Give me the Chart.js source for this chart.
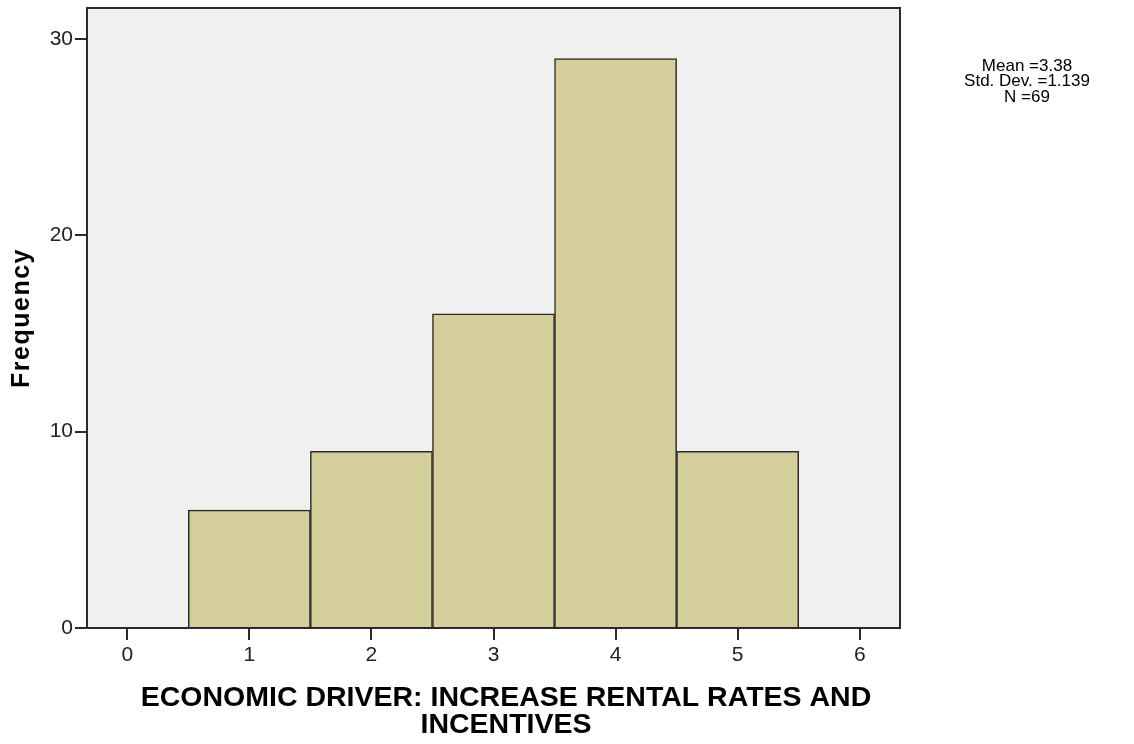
<!DOCTYPE html>
<html>
<head>
<meta charset="utf-8">
<script src="https://cdn.jsdelivr.net/npm/chart.js@4/dist/chart.umd.min.js"></script>
<style>
  html, body { margin: 0; padding: 0; background: #fff; }
  #wrap { width: 1134px; height: 744px; position: relative; }
</style>
</head>
<body>
<div id="wrap"><canvas id="hist"></canvas></div>
<script>
// histogram bins (value -> count)
const binCenters = [1, 2, 3, 4, 5];
const frequencies = [6, 9, 16, 29, 9];
const xTickValues = [0, 1, 2, 3, 4, 5, 6];
const yTickValues = [0, 10, 20, 30];
const statLines = ['Mean =3.38', 'Std. Dev. =1.139', 'N =69'];
const xTitle = ['ECONOMIC DRIVER: INCREASE RENTAL RATES AND', 'INCENTIVES'];
const yTitle = 'Frequency';

const FONT = '"Liberation Sans", Arial, sans-serif';
const INK = '#2b2b2b';

// grey plot background, frame, axis titles and the stats block
const decor = {
  id: 'decor',
  beforeDraw(chart) {
    const a = chart.chartArea, ctx = chart.ctx;
    ctx.save();
    ctx.fillStyle = '#f0f0f0';
    ctx.fillRect(a.left, a.top, a.right - a.left, a.bottom - a.top);
    ctx.restore();
  },
  afterDraw(chart) {
    const a = chart.chartArea, ctx = chart.ctx;
    ctx.save();
    ctx.strokeStyle = INK;
    ctx.lineWidth = 2;
    ctx.strokeRect(a.left, a.top, a.right - a.left, a.bottom - a.top);

    ctx.fillStyle = '#000';
    ctx.textAlign = 'center';
    ctx.textBaseline = 'middle';

    ctx.font = 'bold 28.5px ' + FONT;
    xTitle.forEach(function (s, i) {
      ctx.fillText(s, 506, 698 + i * 27.5);
    });

    ctx.save();
    ctx.translate(22, 318);
    ctx.rotate(-Math.PI / 2);
    ctx.font = 'bold 25px ' + FONT;
    ctx.letterSpacing = '1.5px';
    ctx.fillText(yTitle, 0, 0);
    ctx.restore();

    ctx.font = '17px ' + FONT;
    statLines.forEach(function (s, i) {
      ctx.fillText(s, 1027, 66 + i * 15.5);
    });
    ctx.restore();
  }
};

const ctx = document.getElementById('hist').getContext('2d');
new Chart(ctx, {
  type: 'bar',
  data: {
    datasets: [{
      data: binCenters.map(function (x, i) { return { x: x, y: frequencies[i] }; }),
      backgroundColor: '#d3ce9a',
      borderColor: INK,
      borderWidth: 1.5,
      barPercentage: 1,
      categoryPercentage: 1
    }]
  },
  options: {
    responsive: true,
    maintainAspectRatio: false,
    animation: false,
    layout: { padding: { top: 8, right: 234, left: 0, bottom: 0 } },
    plugins: { legend: { display: false }, tooltip: { enabled: false } },
    scales: {
      x: {
        type: 'linear',
        offset: false,
        min: -0.33,
        max: 6.33,
        afterBuildTicks: function (s) { s.ticks = xTickValues.map(function (v) { return { value: v }; }); },
        afterFit: function (s) { s.height = 116; s.paddingLeft = 0; s.paddingRight = 0; },
        grid: { offset: false, drawOnChartArea: false, drawTicks: true, tickLength: 12, color: INK, lineWidth: 2 },
        border: { display: true, color: INK, width: 2 },
        ticks: { color: '#222', font: { family: FONT, size: 21 }, padding: 3, maxRotation: 0 }
      },
      y: {
        min: 0,
        max: 31.58,
        afterBuildTicks: function (s) { s.ticks = yTickValues.map(function (v) { return { value: v }; }); },
        afterFit: function (s) { s.width = 87; s.paddingTop = 0; s.paddingBottom = 0; },
        grid: { drawOnChartArea: false, drawTicks: true, tickLength: 12, color: INK, lineWidth: 2 },
        border: { display: true, color: INK, width: 2 },
        ticks: { color: '#222', font: { family: FONT, size: 21 }, padding: 2 }
      }
    }
  },
  plugins: [decor]
});
</script>
</body>
</html>
